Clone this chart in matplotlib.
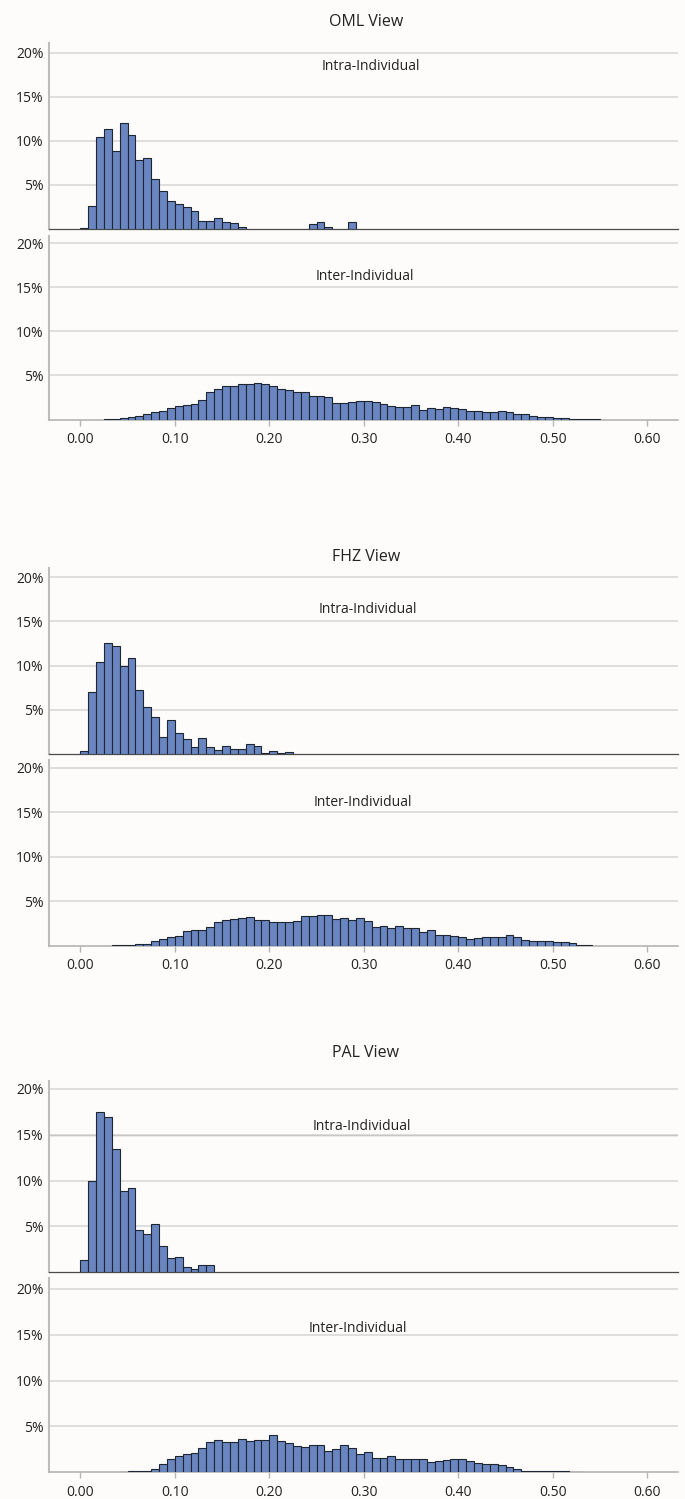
import matplotlib
matplotlib.use("Agg")
import matplotlib.pyplot as plt
import numpy as np

plt.rcParams['font.family'] = ['Open Sans', 'DejaVu Sans']

# bin width of the histograms (1/120)
BIN = 1.0 / 120

views = ['OML View', 'FHZ View', 'PAL View']
sub_labels = ['Intra-Individual', 'Inter-Individual']
x_ticks = [0.0, 0.1, 0.2, 0.3, 0.4, 0.5, 0.6]
x_ticklabels = ['0.00', '0.10', '0.20', '0.30', '0.40', '0.50', '0.60']
y_ticks = [5, 10, 15, 20]
y_ticklabels = ['5%', '10%', '15%', '20%']

# percent per bin, first bin index given by *_start
oml_intra_start = 0
oml_intra = [0.15, 2.65, 10.4, 11.3, 8.9, 12.0, 10.7, 7.8, 8.1, 5.7, 4.35, 3.2, 2.8,
             2.55, 2.0, 0.9, 0.9, 1.2, 0.8, 0.65, 0.25,
             0, 0, 0, 0, 0, 0, 0, 0, 0.53, 0.8, 0.23, 0, 0, 0.8]
oml_inter_start = 3
oml_inter = [0.08, 0.1, 0.15, 0.25, 0.4, 0.6, 0.9, 0.95, 1.35, 1.5, 1.65, 1.75, 2.2,
             3.1, 3.5, 3.8, 3.75, 4.0, 4.05, 4.2, 4.0, 3.75, 3.45, 3.4, 3.1, 3.1,
             2.7, 2.7, 2.5, 1.85, 1.85, 1.95, 2.1, 2.05, 2.0, 1.8, 1.5, 1.45, 1.45,
             1.6, 1.05, 1.25, 1.2, 1.45, 1.3, 1.2, 1.0, 1.0, 0.9, 0.8, 0.95, 0.85,
             0.65, 0.65, 0.45, 0.3, 0.27, 0.2, 0.15, 0.1, 0.07, 0.06, 0.04]

fhz_intra_start = 0
fhz_intra = [0.38, 7.07, 10.4, 12.6, 12.2, 9.96, 10.9, 7.2, 5.3, 4.2, 1.9, 3.8, 2.33,
             1.7, 0.8, 1.8, 0.75, 0.5, 0.9, 0.56, 0.56, 1.17, 0.9, 0.15, 0.38, 0.12, 0.23]
fhz_inter_start = 4
fhz_inter = [0.04, 0.04, 0.08, 0.15, 0.19, 0.49, 0.71, 0.98, 1.09, 1.65, 1.8, 1.8,
             2.1, 2.67, 2.9, 2.97, 3.16, 3.2, 2.86, 2.86, 2.7, 2.7, 2.67, 2.82, 3.3,
             3.3, 3.42, 3.42, 3.0, 3.08, 2.9, 3.08, 2.74, 2.07, 2.26, 2.03, 2.18, 2.0,
             2.0, 1.54, 1.73, 1.17, 1.17, 1.13, 0.98, 0.71, 0.83, 0.98, 0.94, 0.94,
             1.17, 1.0, 0.6, 0.49, 0.49, 0.49, 0.45, 0.38, 0.26, 0.04, 0.04]

pal_intra_start = 0
pal_intra = [1.31, 9.96, 17.5, 16.9, 13.4, 8.83, 9.16, 4.6, 4.2, 5.27, 2.9, 1.56,
             1.67, 0.62, 0.4, 0.76, 0.76]
pal_inter_start = 5
pal_inter = [0.04, 0.1, 0.18, 0.18, 0.33, 0.9, 1.42, 1.82, 1.96, 2.07, 2.65, 3.3,
             3.53, 3.27, 3.35, 3.67, 3.38, 3.53, 3.53, 4.1, 3.38, 3.2, 2.87, 2.76,
             2.98, 2.98, 2.33, 2.58, 2.98, 2.69, 2.0, 2.18, 1.6, 1.53, 1.78, 1.49,
             1.49, 1.45, 1.49, 1.13, 1.2, 1.31, 1.42, 1.49, 1.2, 1.05, 0.95, 0.87,
             0.76, 0.58, 0.36, 0.18, 0.18, 0.18, 0.15, 0.18, 0.15, 0.07, 0.04]

series = [(oml_intra_start, oml_intra), (oml_inter_start, oml_inter),
          (fhz_intra_start, fhz_intra), (fhz_inter_start, fhz_inter),
          (pal_intra_start, pal_intra), (pal_inter_start, pal_inter)]

W, H = 685, 1499
bg = '#fdfcfa'
fig = plt.figure(figsize=(W / 100, H / 100), dpi=100, facecolor=bg)

# pixel boxes (top, bottom) of each panel
boxes = [(43, 229), (236, 419.5), (568, 754), (760, 945.7), (1080.7, 1272.3), (1278.3, 1472.3)]
ytops = [21.1, 20.85, 21.05, 20.9, 20.9, 21.15]
label_y = [18.4, 16.2, 16.3, 16.1, 15.85, 15.7]
label_x = [0.307, 0.301, 0.304, 0.299, 0.298, 0.294]
title_y = [22, 557, 1053]
left, right = 49, 678

for i in range(6):
    top, bot = boxes[i]
    ax = fig.add_axes([left / W, 1 - bot / H, (right - left) / W, (bot - top) / H])
    ax.set_facecolor(bg)
    start, vals = series[i]
    edges = (np.arange(len(vals)) + start) * BIN
    vals = np.array(vals, dtype=float)
    keep = vals > 0
    ax.bar(edges[keep], vals[keep], width=BIN, align='edge', color='#6a86c1',
           edgecolor='#1e2633', linewidth=0.8, zorder=3)
    ax.set_xlim(-0.0331, 0.6325)
    ax.set_ylim(0, ytops[i])
    ax.set_yticks(y_ticks)
    ax.set_yticklabels(y_ticklabels, fontsize=10, color='#222222')
    ax.tick_params(axis='y', length=0, pad=4)
    ax.grid(axis='y', color='#d9d9d9', linewidth=1.2, zorder=0)
    ax.spines['top'].set_visible(False)
    ax.spines['right'].set_visible(False)
    ax.spines['left'].set_color('#bdbdbd')
    ax.spines['left'].set_linewidth(1.5)
    ax.text(label_x[i], label_y[i], sub_labels[i % 2], ha='center', va='center',
            fontsize=10, color='#222222')
    if i % 2 == 0:
        ax.spines['bottom'].set_color('#4a4a4a')
        ax.spines['bottom'].set_linewidth(0.9)
        ax.set_xticks([])
    else:
        ax.spines['bottom'].set_color('#b5b5b5')
        ax.spines['bottom'].set_linewidth(1.2)
        ax.set_xticks(x_ticks)
        ax.set_xticklabels(x_ticklabels, fontsize=10, color='#222222')
        ax.tick_params(axis='x', length=4, width=1, color='#b5b5b5', pad=5)
    if i == 4:
        # the 15% line of the PAL intra panel is drawn darker
        ax.axhline(15, color='#6e6e6e', linewidth=0.9, zorder=1)

for k in range(3):
    fig.text(366 / W, 1 - title_y[k] / H, views[k], ha='center', va='center',
             fontsize=11.5, color='#222222')

fig.savefig('out.png', dpi=100, facecolor=bg)
